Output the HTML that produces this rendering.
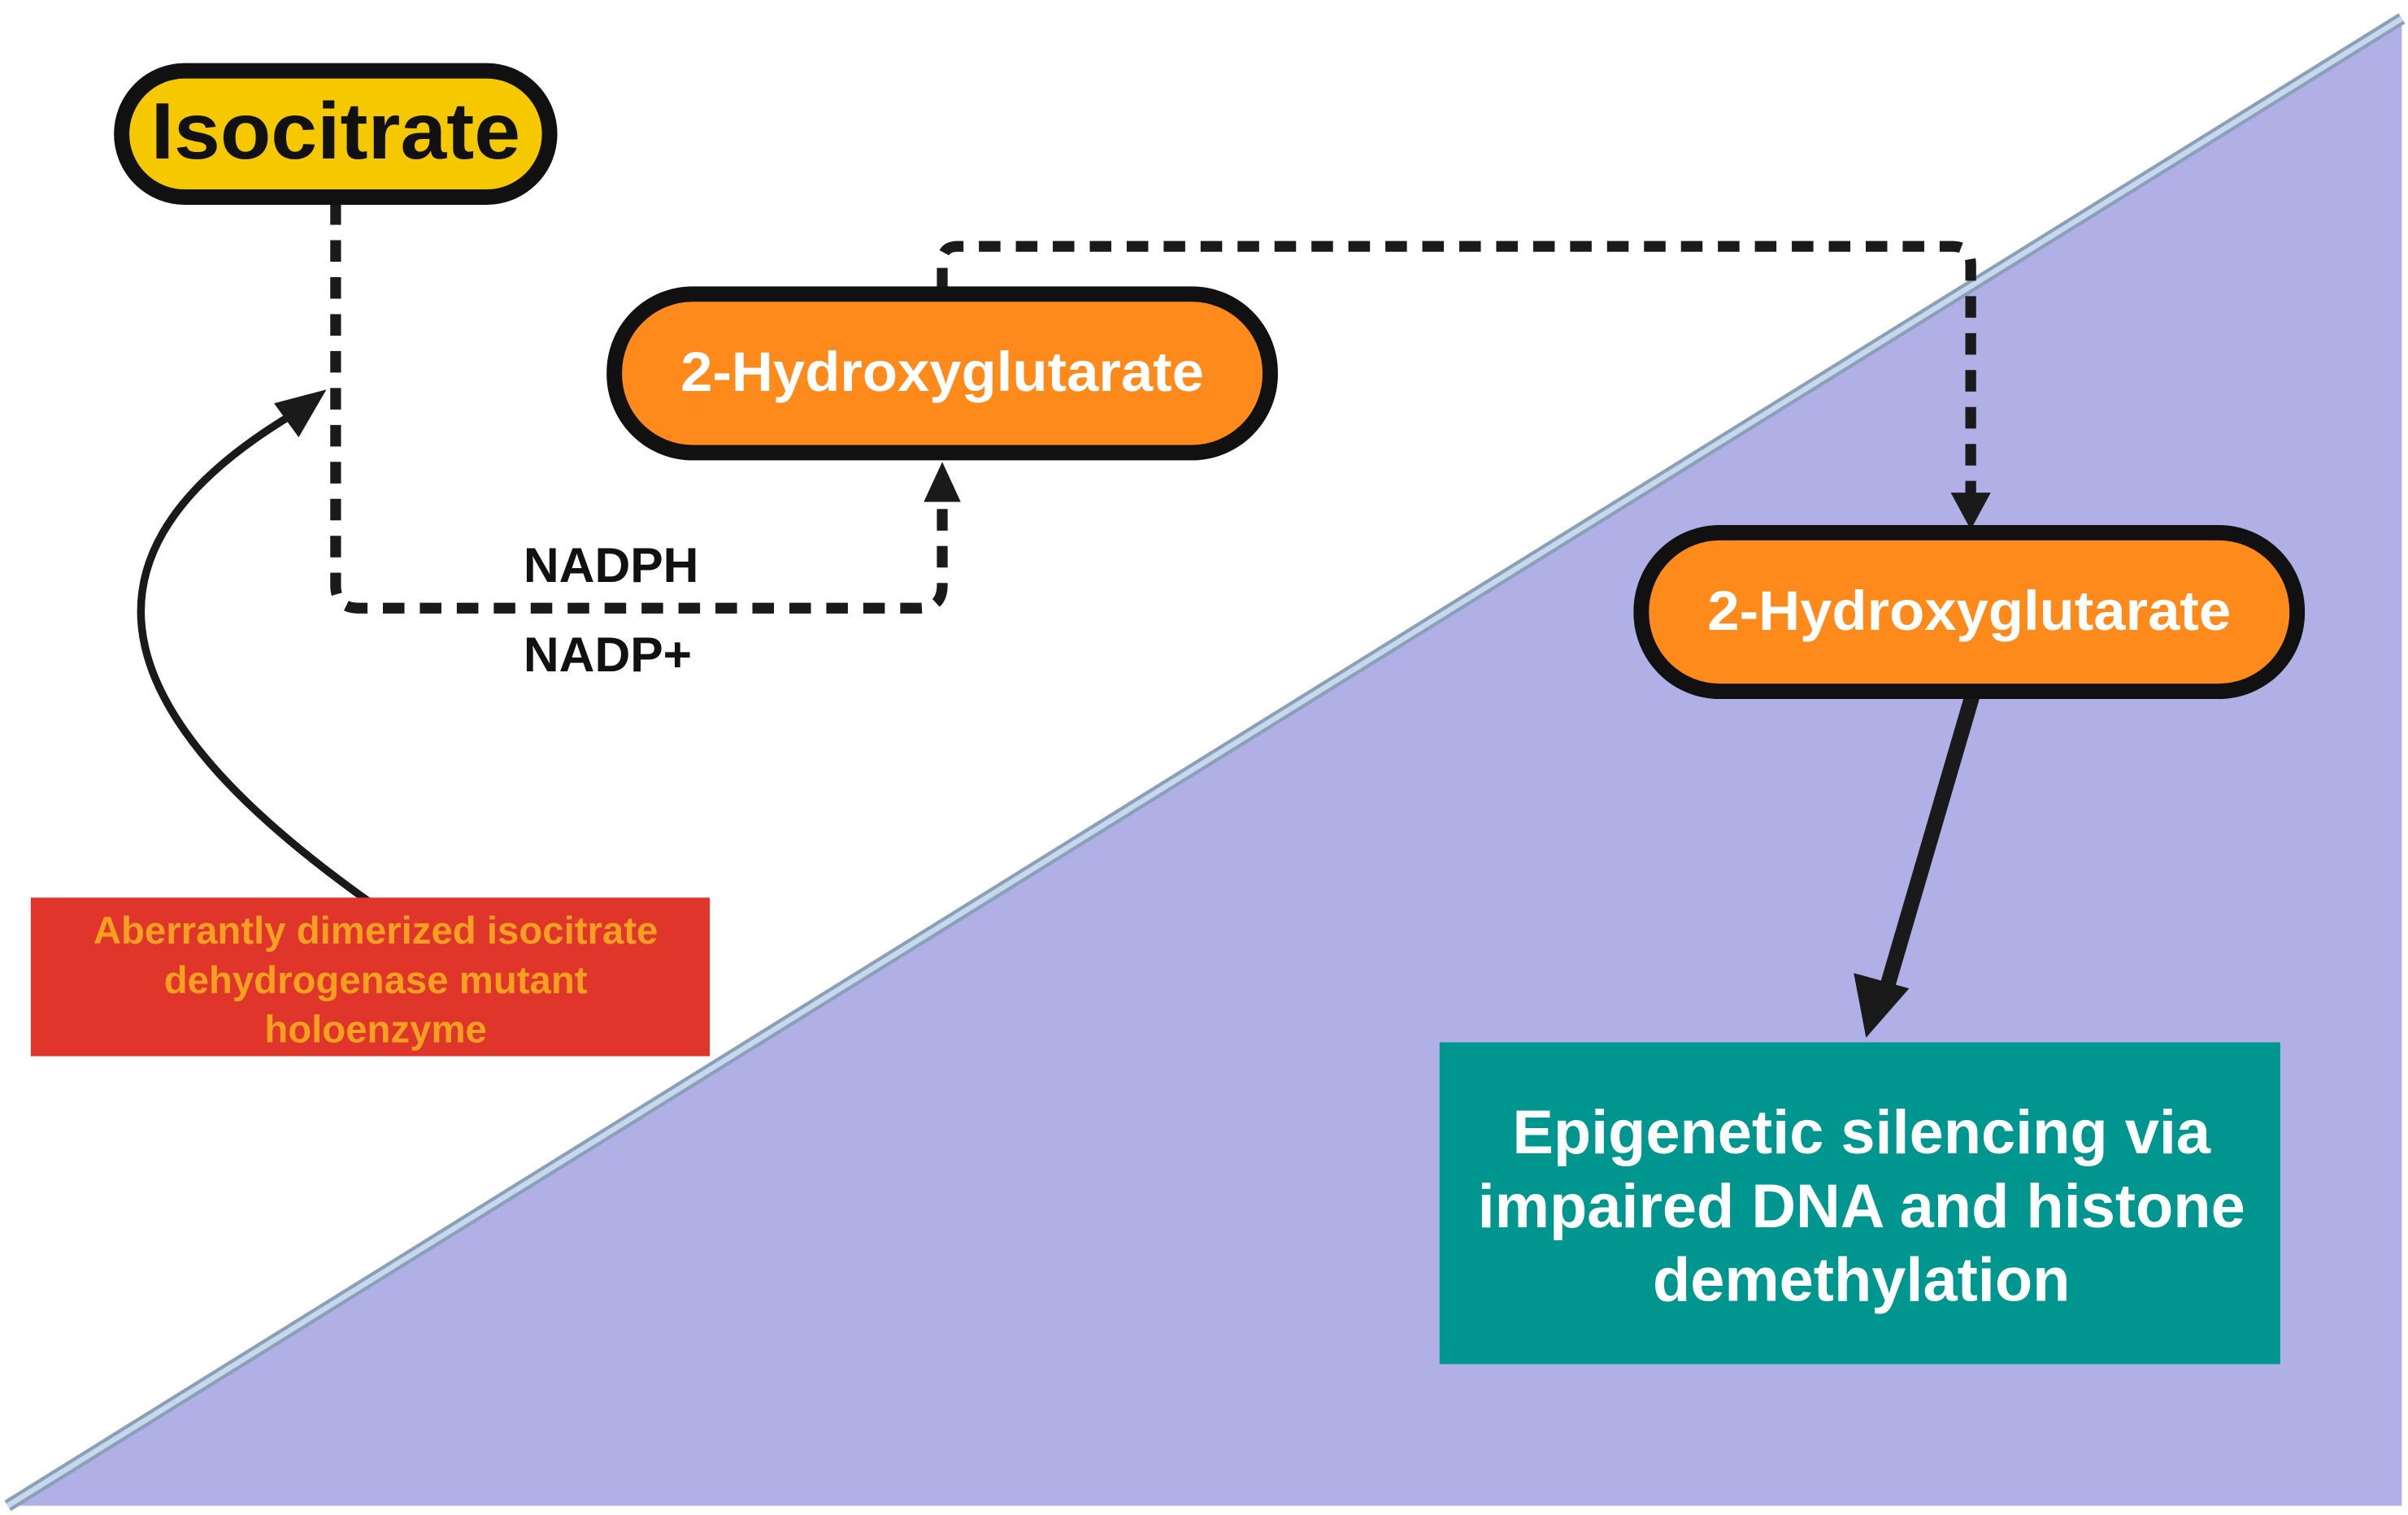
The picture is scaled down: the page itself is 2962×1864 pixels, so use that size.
<!DOCTYPE html>
<html><head><style>html,body{margin:0;padding:0;background:#fff}svg{display:block}</style></head>
<body>
<svg width="2962" height="1864" viewBox="0 0 1564 984" preserveAspectRatio="none" xmlns="http://www.w3.org/2000/svg" font-family="'Liberation Sans', sans-serif" font-weight="bold">
<polygon points="5,978 1560,12 1560,978" fill="#b0b0e6"/>
<line x1="5" y1="978" x2="1560" y2="12" stroke="#8aa0b8" stroke-width="8"/>
<line x1="5" y1="978" x2="1560" y2="12" stroke="#c8d8ec" stroke-width="3.5"/>
<!-- dashed path isocitrate -> 2HG -->
<path d="M218,132 V380 Q218,395 233,395 H597 Q612,395 612,380 V325" fill="none" stroke="#1a1a1a" stroke-width="7" stroke-dasharray="14,10"/>
<polygon points="612,300 600,326 624,326" fill="#1a1a1a"/>
<!-- dashed top -->
<path d="M612,188 V170 Q612,160 622,160 H1268 Q1280,160 1280,172 V322" fill="none" stroke="#1a1a1a" stroke-width="7" stroke-dasharray="14,10"/>
<polygon points="1280,344 1267,320 1293,320" fill="#1a1a1a"/>
<!-- curved arrow -->
<path d="M243,588 C90,480 20,370 192,268" fill="none" stroke="#1a1a1a" stroke-width="5"/>
<polygon points="212,253 178,262 194,284" fill="#1a1a1a"/>
<!-- thick arrow -->
<line x1="1281" y1="452" x2="1226" y2="640" stroke="#1a1a1a" stroke-width="10"/>
<polygon points="1212,674 1204,632 1240,642" fill="#1a1a1a"/>
<!-- pills -->
<rect x="79" y="46" width="278" height="82" rx="41" fill="#f5c800" stroke="#111" stroke-width="10"/>
<text x="218" y="103" font-size="52" text-anchor="middle" fill="#111" textLength="240" lengthAdjust="spacingAndGlyphs">Isocitrate</text>
<rect x="399" y="191" width="426" height="103" rx="51" fill="#ff8a1c" stroke="#111" stroke-width="10"/>
<text x="612" y="254" font-size="36" text-anchor="middle" fill="#fff" textLength="340" lengthAdjust="spacingAndGlyphs">2-Hydroxyglutarate</text>
<rect x="1066" y="346" width="426" height="103" rx="51" fill="#ff8a1c" stroke="#111" stroke-width="10"/>
<text x="1279" y="409" font-size="36" text-anchor="middle" fill="#fff" textLength="340" lengthAdjust="spacingAndGlyphs">2-Hydroxyglutarate</text>
<text x="340" y="378" font-size="32" fill="#111">NADPH</text>
<text x="340" y="436" font-size="32" fill="#111">NADP+</text>
<!-- red box -->
<rect x="20" y="583" width="441" height="103" fill="#e0352b"/>
<g font-size="25" fill="#f5a020" text-anchor="middle">
<text x="244" y="613">Aberrantly dimerized isocitrate</text>
<text x="244" y="645">dehydrogenase mutant</text>
<text x="244" y="677">holoenzyme</text>
</g>
<!-- teal box -->
<rect x="935" y="677" width="546" height="209" fill="#009690"/>
<g font-size="40" fill="#fff" text-anchor="middle">
<text x="1209" y="749">Epigenetic silencing via</text>
<text x="1209" y="797">impaired DNA and histone</text>
<text x="1209" y="845">demethylation</text>
</g>
</svg>
</body></html>
